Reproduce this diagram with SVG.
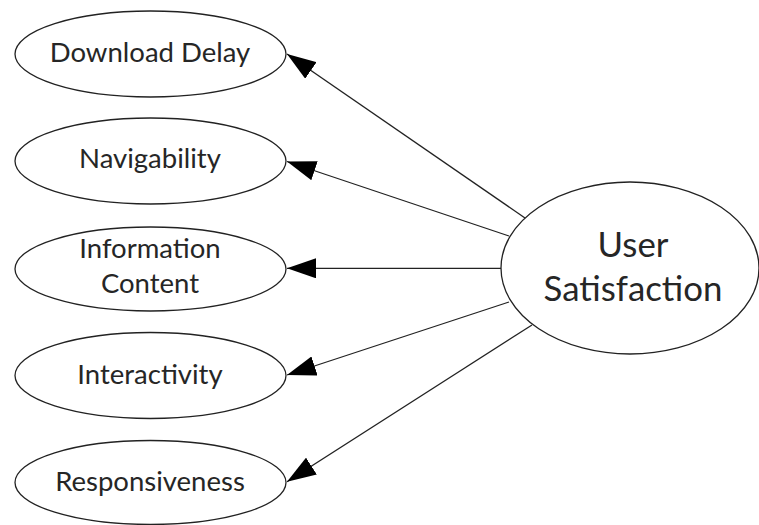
<svg xmlns="http://www.w3.org/2000/svg" width="759" height="525" viewBox="0 0 759 525">
<defs>
<style>
.node ellipse{fill:#fff;stroke:#222;stroke-width:1.3}
.node text{font-family:Lato,"Open Sans","Liberation Sans",sans-serif;font-size:27.5px;fill:#262626;text-anchor:middle}
.big text{font-size:34.8px}
#connectors line{stroke:#222;stroke-width:1.3;marker-end:url(#arr)}
</style>
<marker id="arr" viewBox="0 0 29 20" refX="29" refY="10" markerWidth="29" markerHeight="20" markerUnits="userSpaceOnUse" orient="auto">
<path d="M0,0 L29,10 L0,20 Z" fill="#000"/>
</marker>
</defs>
<rect width="759" height="525" fill="#fff"/>
<g id="connectors">
<line x1="525" y1="218" x2="287" y2="54"/>
<line x1="509" y1="236" x2="287" y2="161.5"/>
<line x1="501" y1="268.3" x2="287" y2="268.3"/>
<line x1="509" y1="302" x2="287" y2="375"/>
<line x1="532" y1="325" x2="287" y2="481.7"/>
</g>
<g id="download-delay" class="node">
<ellipse cx="150.5" cy="54" rx="135.5" ry="43"/>
<text x="150" y="62">Download Delay</text>
</g>
<g id="navigability" class="node">
<ellipse cx="150.5" cy="161" rx="135.5" ry="43"/>
<text x="150" y="168">Navigability</text>
</g>
<g id="information-content" class="node">
<ellipse cx="150.5" cy="269" rx="135.5" ry="42"/>
<text x="150" y="258">Information</text>
<text x="150" y="293">Content</text>
</g>
<g id="interactivity" class="node">
<ellipse cx="150.5" cy="375.5" rx="135.5" ry="43"/>
<text x="150" y="384">Interactivity</text>
</g>
<g id="responsiveness" class="node">
<ellipse cx="150.5" cy="482.5" rx="135.5" ry="42"/>
<text x="150" y="491">Responsiveness</text>
</g>
<g id="user-satisfaction" class="node big">
<ellipse cx="630" cy="268" rx="129" ry="86"/>
<text x="633" y="257">User</text>
<text x="633" y="301">Satisfaction</text>
</g>
</svg>
